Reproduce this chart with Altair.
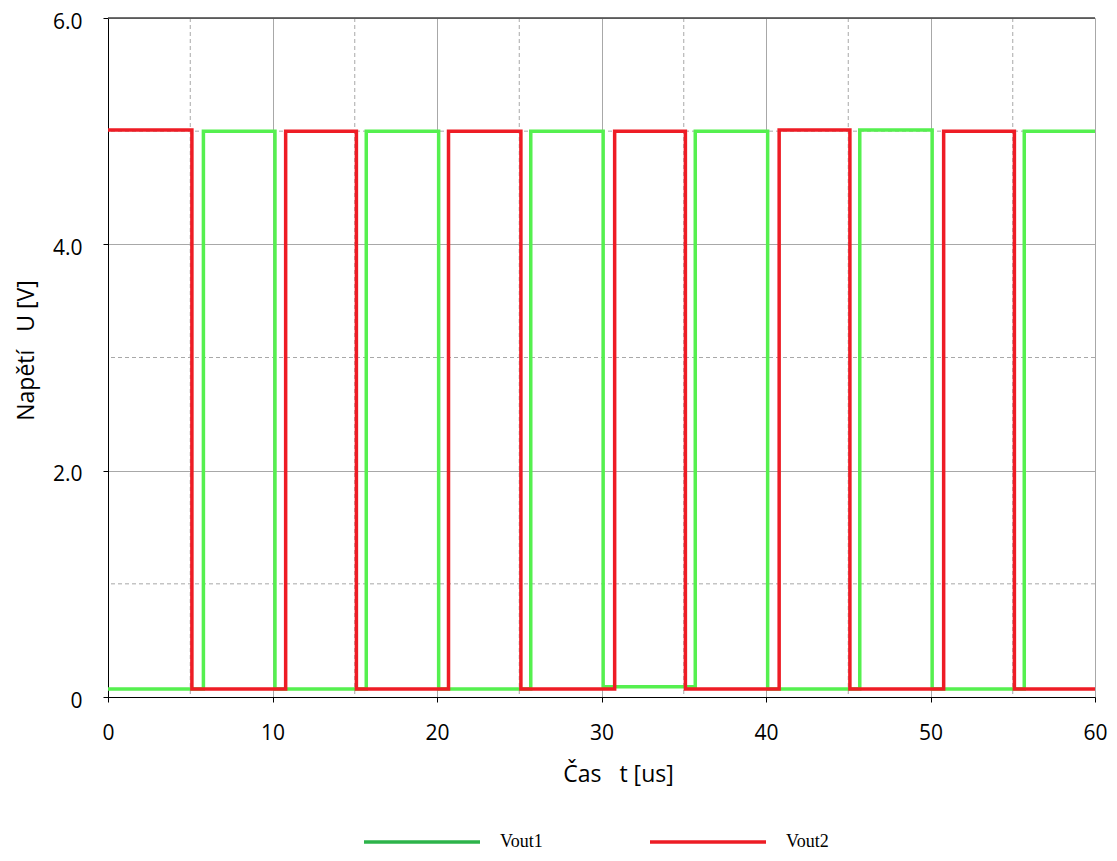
import altair as alt
import pandas as pd

# Vout1 (green) transition times [us] and levels [V] (step-after)
t_vout1 = [0, 5.8, 10.15, 15.7, 20.1, 25.7, 30.1, 35.7, 40.1, 45.7, 50.1, 55.7, 60]
v_vout1 = [0.07, 5.0, 0.07, 5.0, 0.07, 5.0, 0.09, 5.0, 0.07, 5.01, 0.07, 5.0, 5.0]
# Vout2 (red)
t_vout2 = [0, 5.1, 10.8, 15.1, 20.7, 25.1, 30.8, 35.1, 40.8, 45.1, 50.8, 55.1, 60]
v_vout2 = [5.01, 0.07, 5.0, 0.07, 5.0, 0.07, 5.0, 0.07, 5.01, 0.07, 5.0, 0.07, 0.07]

series = ["Vout1", "Vout2"]
trace_colors = ["#55f04f", "#ee1c25"]
legend_colors = ["#2db34a", "#ed1c24"]

x_major = [0, 10, 20, 30, 40, 50, 60]
x_minor = [5, 15, 25, 35, 45, 55]
y_major = [0, 2, 4, 6]
y_minor = [1, 3, 5]

x_title = "Čas\u00a0\u00a0\u00a0t\u00a0[us]"
y_title = "Napětí\u00a0\u00a0\u00a0U [V]"

df = pd.DataFrame(
    [{"t": t, "v": v, "s": "Vout1"} for t, v in zip(t_vout1, v_vout1)]
    + [{"t": t, "v": v, "s": "Vout2"} for t, v in zip(t_vout2, v_vout2)]
)

FONT = "Open Sans"

xs = alt.Scale(domain=[0, 60], nice=False, zero=False)
ys = alt.Scale(domain=[0, 6], nice=False, zero=False)

minor_x = alt.Chart(pd.DataFrame({"x": x_minor})).mark_rule(
    color="#a8a8a8", strokeDash=[4, 3], strokeWidth=1
).encode(x=alt.X("x:Q", scale=xs))
minor_y = alt.Chart(pd.DataFrame({"y": y_minor})).mark_rule(
    color="#a8a8a8", strokeDash=[4, 3], strokeWidth=1
).encode(y=alt.Y("y:Q", scale=ys))
top_line = alt.Chart(pd.DataFrame({"y": [6]})).mark_rule(
    color="#404040", strokeWidth=1.5
).encode(y=alt.Y("y:Q", scale=ys))

lines = alt.Chart(df).mark_line(interpolate="step-after", strokeWidth=3.5).encode(
    x=alt.X(
        "t:Q",
        scale=xs,
        axis=alt.Axis(
            values=x_major,
            title=x_title,
            titleFont=FONT,
            titleFontSize=23,
            titleFontWeight="normal",
            titleColor="#000000",
            titlePadding=20,
            titleX=510,
            labelFont=FONT,
            labelFontSize=21,
            labelColor="#000000",
            labelPadding=20,
            labelFlush=False,
            domainColor="#000000",
            tickColor="#000000",
            tickSize=5,
            gridColor="#a8a8a8",
            gridWidth=1,
        ),
    ),
    y=alt.Y(
        "v:Q",
        scale=ys,
        axis=alt.Axis(
            values=y_major,
            title=y_title,
            titleFont=FONT,
            titleFontSize=23,
            titleFontWeight="normal",
            titleColor="#000000",
            titlePadding=14,
            titleY=332,
            labelFont=FONT,
            labelFontSize=21,
            labelColor="#000000",
            labelPadding=21,
            labelOffset=4,
            labelFlush=False,
            labelExpr="datum.value == 0 ? '0' : format(datum.value, '.1f')",
            domainColor="#000000",
            tickColor="#000000",
            tickSize=5,
            gridColor="#a8a8a8",
            gridWidth=1,
        ),
    ),
    color=alt.Color("s:N", scale=alt.Scale(domain=series, range=trace_colors), legend=None),
    detail="s:N",
)

legend_layer = alt.Chart(df).transform_filter("false").mark_line(strokeWidth=3).encode(
    x=alt.X("t:Q", scale=xs),
    y=alt.Y("v:Q", scale=ys),
    stroke=alt.Stroke(
        "s:N",
        scale=alt.Scale(domain=series, range=legend_colors),
        legend=alt.Legend(
            title=None,
            orient="none",
            legendX=254,
            legendY=764,
            direction="horizontal",
            symbolType="stroke",
            symbolSize=13456,
            symbolStrokeWidth=3.5,
            labelFont="Liberation Serif",
            labelFontSize=18,
            labelColor="#000000",
            labelOffset=18,
            columnPadding=100,
            padding=0,
        ),
    ),
)

chart = (
    alt.layer(minor_x, minor_y, lines, legend_layer, top_line)
    .resolve_scale(color="independent", stroke="independent")
    .properties(
        width=987,
        height=679,
        autosize=alt.AutoSizeParams(type="none"),
        padding={"left": 100, "top": 10, "right": 14, "bottom": 156},
    )
    .configure_view(stroke="#808080", strokeWidth=1.5)
    .configure(background="white")
)

chart.save("out.html", embed_options={"renderer": "svg", "actions": False})
